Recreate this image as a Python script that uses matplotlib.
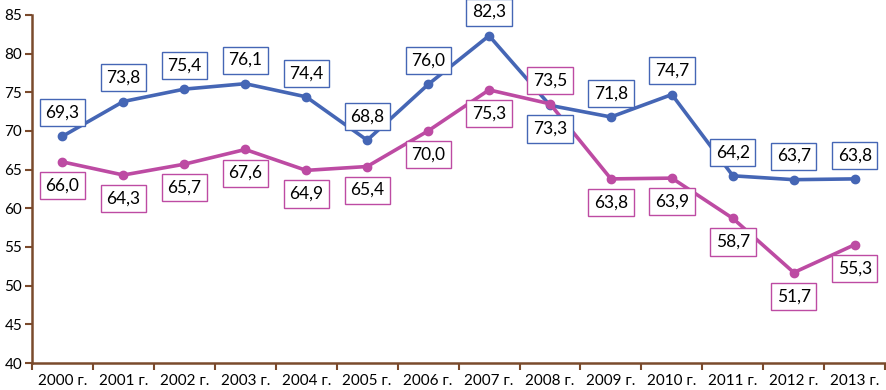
import matplotlib
matplotlib.use('Agg')
import matplotlib.pyplot as plt

plt.rcParams['font.family'] = ['Lato', 'DejaVu Sans']

years = ['2000 г.', '2001 г.', '2002 г.', '2003 г.', '2004 г.', '2005 г.', '2006 г.',
         '2007 г.', '2008 г.', '2009 г.', '2010 г.', '2011 г.', '2012 г.', '2013 г.']
blue_vals = [69.3, 73.8, 75.4, 76.1, 74.4, 68.8, 76.0, 82.3, 73.3, 71.8, 74.7, 64.2, 63.7, 63.8]
pink_vals = [66.0, 64.3, 65.7, 67.6, 64.9, 65.4, 70.0, 75.3, 73.5, 63.8, 63.9, 58.7, 51.7, 55.3]

blue = '#4566b5'
pink = '#bd4ba3'
axis_col = '#7a4a2c'

fig = plt.figure(figsize=(8.87, 3.9), dpi=100)
ax = fig.add_axes([0.036, 0.069, 0.962, 0.893])

x = list(range(len(years)))
ax.plot(x, blue_vals, color=blue, lw=2.6, marker='o', ms=6)
ax.plot(x, pink_vals, color=pink, lw=2.6, marker='o', ms=6)

def fmt(v):
    return f'{v:.1f}'.replace('.', ',')

for i, v in enumerate(blue_vals):
    dy = -17 if years[i] == '2008 г.' else 17
    ax.annotate(fmt(v), (i, v), xytext=(0, dy), textcoords='offset points',
                ha='center', va='center', fontsize=12.5,
                bbox=dict(boxstyle='square,pad=0.32', fc='white', ec=blue, lw=1))

for i, v in enumerate(pink_vals):
    dy = 17 if years[i] == '2008 г.' else -17
    ax.annotate(fmt(v), (i, v), xytext=(0, dy), textcoords='offset points',
                ha='center', va='center', fontsize=12.5,
                bbox=dict(boxstyle='square,pad=0.32', fc='white', ec=pink, lw=1))

ax.set_xlim(-0.5, len(years) - 0.5)
ax.set_ylim(40, 85)
ax.set_yticks(range(40, 86, 5))
ax.set_xticks(x)
ax.set_xticklabels(years)
ax.set_xticks([i - 0.5 for i in range(len(years) + 1)], minor=True)
ax.tick_params(axis='x', which='major', length=0, pad=8, labelsize=11)
ax.tick_params(axis='x', which='minor', length=5, color=axis_col, width=1.5)
ax.tick_params(axis='y', length=5, color=axis_col, width=1.5, labelsize=11, pad=2)

for s in ['top', 'right']:
    ax.spines[s].set_visible(False)
for s in ['left', 'bottom']:
    ax.spines[s].set_color(axis_col)
    ax.spines[s].set_linewidth(1.8)

fig.savefig('out.png', dpi=100)
